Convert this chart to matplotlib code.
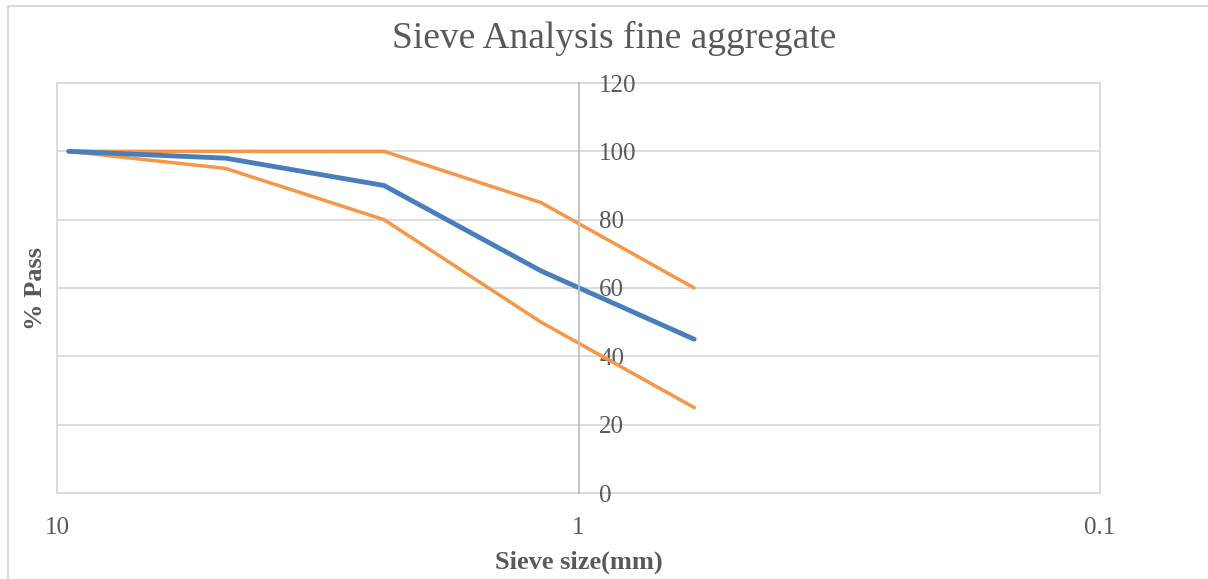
import numpy as np
import matplotlib.pyplot as plt
from matplotlib.patches import Rectangle

# sieve sizes (mm) and % passing
sieve = [9.5, 4.75, 2.36, 1.18, 0.6]
passing = [100, 98, 90, 65, 45]
upper = [100, 100, 100, 85, 60]
lower = [100, 95, 80, 50, 25]
yticks = [0, 20, 40, 60, 80, 100, 120]

plt.rcParams['font.family'] = ['Liberation Serif', 'DejaVu Serif']

fig = plt.figure(figsize=(12.08, 5.79), dpi=100)
ax = fig.add_axes([57 / 1208, 1 - 493 / 579, (1100 - 57) / 1208, (493 - 83) / 579])

ax.plot(sieve, upper, color='#F79646', lw=2.5, solid_capstyle='round')
ax.plot(sieve, lower, color='#F79646', lw=2.5, solid_capstyle='round')
ax.plot(sieve, passing, color='#4A7EBB', lw=3.5, solid_capstyle='round')

ax.set_xscale('log')
ax.set_xlim(10, 0.1)
ax.set_ylim(0, 120)

ax.set_xticks([10, 1, 0.1])
ax.set_xticklabels(['10', '1', '0.1'])
ax.minorticks_off()
ax.set_yticks(yticks)
ax.set_yticklabels([str(v) for v in yticks])

# value axis crosses at 1 mm, labels sit to its right
ax.spines['left'].set_position(('data', 1))
ax.spines['left'].set_color('#BFBFBF')
ax.spines['left'].set_linewidth(1.3)
for name in ['top', 'right', 'bottom']:
    ax.spines[name].set_visible(False)
ax.add_patch(Rectangle((0, 0), 1, 1, transform=ax.transAxes, fill=False,
                       edgecolor='#D9D9D9', lw=1.3, clip_on=False, zorder=0.5))

ax.tick_params(axis='x', length=0, pad=17, labelsize=18, labelcolor='#595959')
ax.tick_params(axis='y', length=0, pad=-15, labelsize=18, labelcolor='#595959')
for lab in ax.get_yticklabels():
    lab.set_horizontalalignment('left')

ax.grid(axis='y', color='#D9D9D9', lw=1.3)

fig.text(614 / 1208, 1 - 38 / 579, 'Sieve Analysis fine aggregate', fontsize=27,
         color='#595959', ha='center', va='center')
ax.set_xlabel('Sieve size(mm)', fontsize=19, fontweight='bold', color='#595959')
ax.xaxis.set_label_coords(0.5, -0.17)
ax.xaxis.label.set_va('center')
ax.set_ylabel('% Pass', fontsize=19, fontweight='bold', color='#595959')
ax.yaxis.set_label_coords(-0.021, 0.5)
ax.yaxis.label.set_va('center')

fig.add_artist(Rectangle((8 / 1208, -0.05), 1.2, 1 - 6 / 579 + 0.05, transform=fig.transFigure,
                         fill=False, edgecolor='#D9D9D9', lw=1.5))

fig.savefig('out.png', dpi=100)
